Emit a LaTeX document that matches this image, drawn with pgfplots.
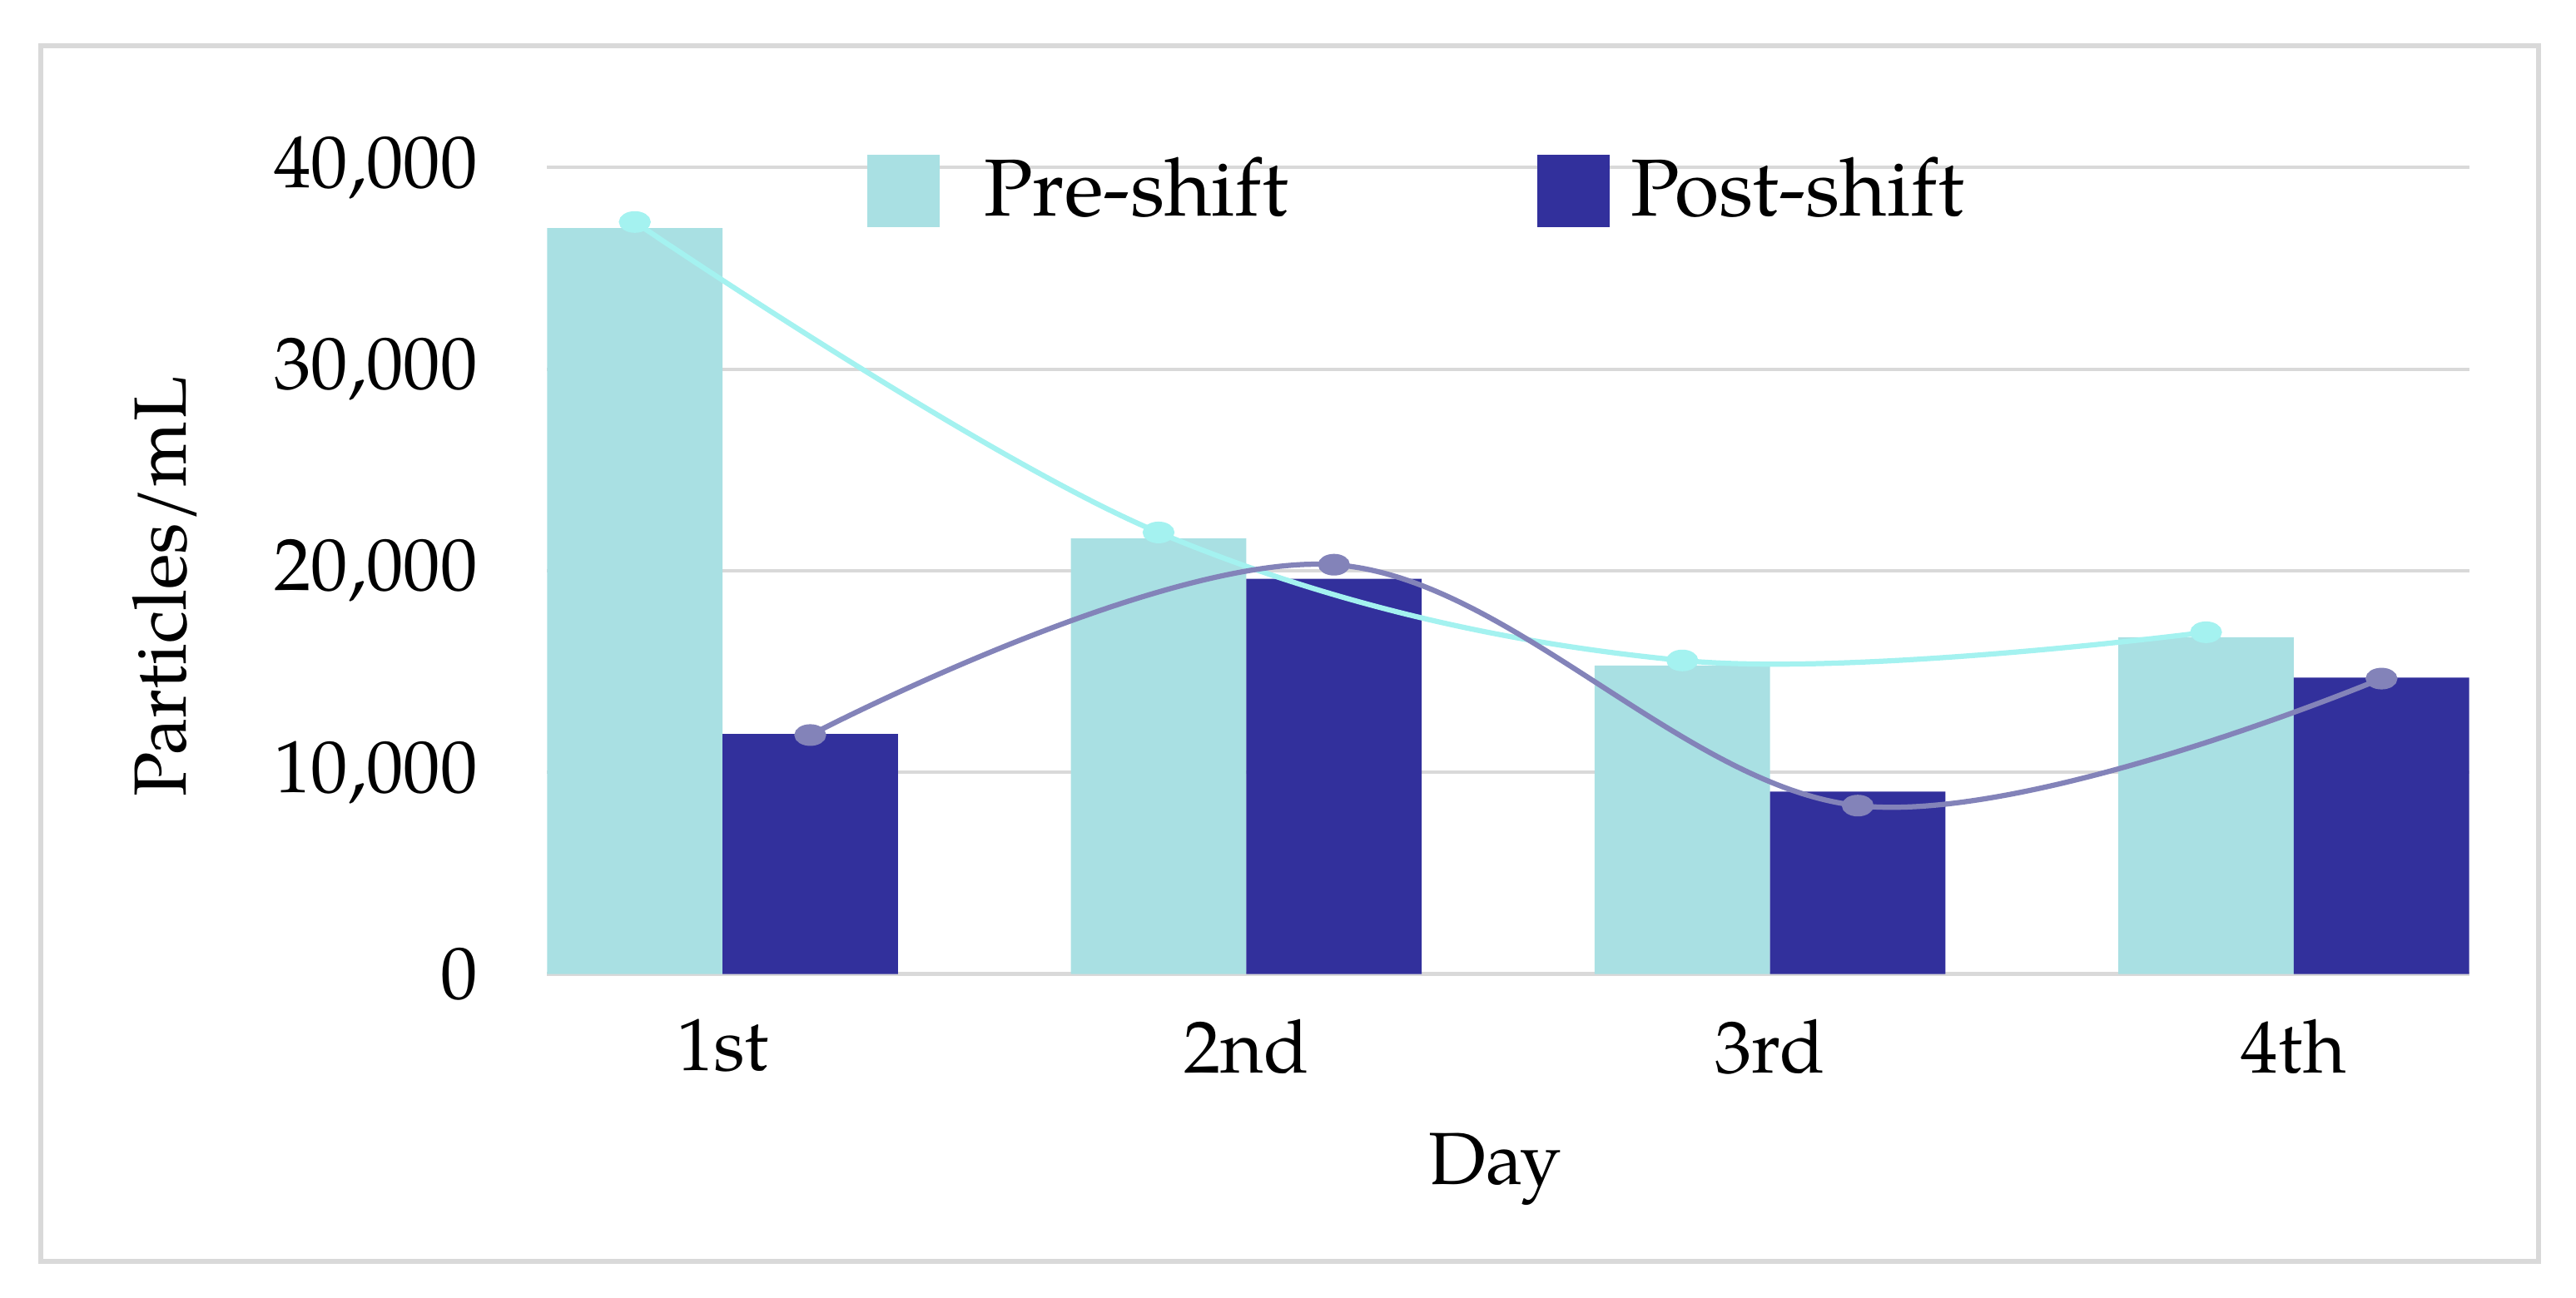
\documentclass[border=0pt]{standalone}
\usepackage{pgfplots}
\pgfplotsset{compat=1.18}
\usepackage{fontspec}
\setmainfont{TeX Gyre Pagella}
\definecolor{prebar}{HTML}{A9E0E3}
\definecolor{postbar}{HTML}{32309C}
\definecolor{preline}{HTML}{A4F2F0}
\definecolor{postline}{HTML}{8383B9}
\definecolor{gridgray}{HTML}{D9D9D9}
\begin{document}
\begin{tikzpicture}
\path[use as bounding box] (0,0) rectangle (15.68cm,7.90cm);
\draw[gridgray, line width=0.3mm] (0.25cm,0.22cm) rectangle (15.45cm,7.62cm);
\begin{axis}[
  at={(3.33cm,1.97cm)}, anchor=south west,
  scale only axis, width=11.70cm, height=4.91cm,
  xmin=-0.335, xmax=3.335, ymin=0, ymax=40000,
  xtick={0,1,2,3}, xticklabels={1st,2nd,3rd,4th},
  ytick={0,10000,20000,30000,40000},
  scaled y ticks=false,
  /pgf/number format/1000 sep={,},
  /pgf/number format/assume math mode=true,
  ymajorgrids, grid style={gridgray, line width=0.6pt},
  axis line style={draw=none}, tick style={draw=none},
  ticklabel style={font=\fontsize{12.8}{14}\selectfont},
  label style={font=\fontsize{12.8}{14}\selectfont},
  xlabel={Day}, ylabel={Particles/mL},
  xlabel style={at={(axis description cs:0.493,-0.242)}, anchor=center},
  ylabel style={at={(axis description cs:-0.199,0.48)}, anchor=center},
  xticklabel style={yshift=-1.5mm},
  yticklabel style={xshift=-3mm},
  legend style={at={(0.166,0.971)}, anchor=west, draw=none, fill=none, inner sep=0pt,
    font=\fontsize{14}{16}\selectfont, legend columns=2,
    /tikz/every even column/.append style={column sep=14.4mm}},
  legend cell align=left,
]
\addplot[ybar, bar width=0.335, bar shift=-0.1675, fill=prebar, draw=none,
  legend image code/.code={\fill[prebar] (0cm,-2.2mm) rectangle (4.4mm,2.2mm);}]
  coordinates {(0,37000) (1,21600) (2,15300) (3,16700)};
\addlegendentry{\hspace{2.0mm}Pre-shift}
\addplot[ybar, bar width=0.335, bar shift=0.1675, fill=postbar, draw=none,
  legend image code/.code={\fill[postbar] (0cm,-2.2mm) rectangle (4.4mm,2.2mm);}]
  coordinates {(0,11900) (1,19600) (2,9050) (3,14700)};
\addlegendentry{\hspace{0.6mm}Post-shift}
\addplot[smooth, tension=0.6, preline, line width=0.9pt, mark=*, mark size=2.3pt,
  mark options={yscale=0.62, fill=preline, draw=none}, forget plot]
  coordinates {(-0.1675,37300) (0.8325,21900) (1.8325,15550) (2.8325,16950)};
\addplot[smooth, tension=0.6, postline, line width=0.9pt, mark=*, mark size=2.3pt,
  mark options={yscale=0.62, fill=postline, draw=none}, forget plot]
  coordinates {(0.1675,11850) (1.1675,20300) (2.1675,8350) (3.1675,14650)};
\end{axis}
\end{tikzpicture}
\end{document}
